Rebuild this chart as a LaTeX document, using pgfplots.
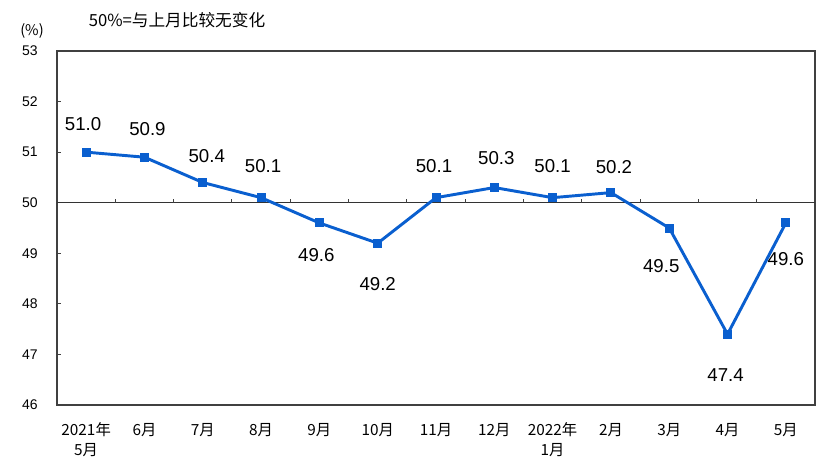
\documentclass[border=0pt]{standalone}
\usepackage{pgfplots}
\pgfplotsset{compat=1.18}
\usepackage{pgfplotstable}
\usepackage{fontspec}
\setmainfont{Liberation Sans}
\newfontfamily\cjk{Noto Sans CJK SC}
\definecolor{lineblue}{HTML}{0A5FCF}
\pgfplotstableread{
x y dx dy
0 51.0 -3 28
1 50.9 3 28
2 50.4 4 26
3 50.1 2 32
4 49.6 -3 -32
5 49.2 0 -41
6 50.1 -2 32
7 50.3 2 29
8 50.1 0 32
9 50.2 3 26
10 49.5 -8 -38
11 47.4 -2 -41
12 49.6 0 -36
}\datatable
\begin{document}
\begin{tikzpicture}[x=1pt,y=1pt]
\useasboundingbox (-42.75,-48) rectangle (582,303.75);
\begin{axis}[
  at={(0,0)}, anchor=south west, scale only axis,
  width=568.5pt, height=265.5pt,
  xmin=-0.5, xmax=12.5, ymin=46, ymax=53,
  ytick={46,...,53}, xtick={0,...,12},
  xticklabels={{2021年\\5月},6月,7月,8月,9月,10月,11月,12月,{2022年\\1月},2月,3月,4月,5月},
  xticklabel style={align=center, anchor=north, font=\cjk\fontsize{11.5}{15}\selectfont, yshift=-10pt},
  yticklabel style={font=\fontsize{10.5}{12}\selectfont, xshift=-11pt},
  major x tick style={draw=none},
  ytick pos=left, tick align=inside, major tick length=3pt,
  tick style={black!75, line width=0.8pt},
  /pgf/number format/assume math mode=true,
  axis line style={line width=0.9pt, draw=black!75},
  clip=false,
]
\draw[black!80, line width=0.9pt] (axis cs:-0.5,50) -- (axis cs:12.5,50);
\pgfplotsinvokeforeach{0.5,1.5,2.5,3.5,4.5,5.5,6.5,7.5,8.5,9.5,10.5,11.5}{
  \draw[black!75, line width=0.8pt] (axis cs:#1,50) -- ([yshift=3pt]axis cs:#1,50);
}
\addplot[
  color=lineblue, line width=2.2pt, mark=square*, mark size=3pt,
  mark options={line width=0pt, fill=lineblue},
  nodes near coords,
  point meta=y,
  nodes near coords={\pgfmathprintnumber[fixed, fixed zerofill, precision=1]{\pgfplotspointmeta}},
  visualization depends on={\thisrow{dx} \as \dx},
  visualization depends on={\thisrow{dy} \as \dy},
  every node near coord/.append style={anchor=center, text=black,
     font=\fontsize{14}{16}\selectfont,
     xshift={0.75*\dx}, yshift={0.75*\dy}},
] table[x=x, y=y] {\datatable};
\end{axis}
\node[font=\cjk\fontsize{12.5}{14}\selectfont] at (90,288.4) {50\%=与上月比较无变化};
\node[font=\cjk\fontsize{11}{12}\selectfont] at (-18.75,280.5) {(\%)};
\end{tikzpicture}
\end{document}
